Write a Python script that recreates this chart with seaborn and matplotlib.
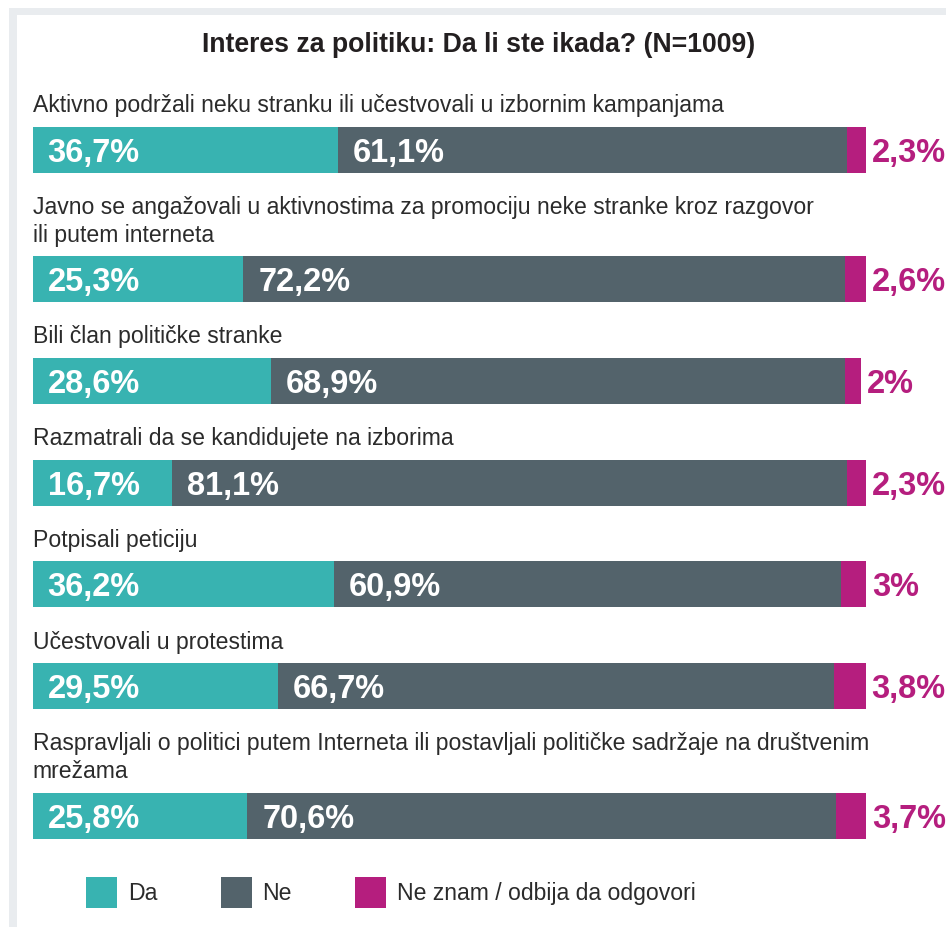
import pandas as pd
import numpy as np
import matplotlib
matplotlib.use("Agg")
import matplotlib.pyplot as plt
import seaborn as sns
from matplotlib.patches import Rectangle, Patch

# data
categories = [
    "Aktivno podržali neku stranku ili učestvovali u izbornim kampanjama",
    "Javno se angažovali u aktivnostima za promociju neke stranke kroz razgovor\nili putem interneta",
    "Bili član političke stranke",
    "Razmatrali da se kandidujete na izborima",
    "Potpisali peticiju",
    "Učestvovali u protestima",
    "Raspravljali o politici putem Interneta ili postavljali političke sadržaje na društvenim\nmrežama",
]
da = [36.7, 25.3, 28.6, 16.7, 36.2, 29.5, 25.8]
ne = [61.1, 72.2, 68.9, 81.1, 60.9, 66.7, 70.6]
dk = [2.3, 2.6, 2.0, 2.3, 3.0, 3.8, 3.7]
series_names = ["Da", "Ne", "Ne znam / odbija da odgovori"]
title = "Interes za politiku: Da li ste ikada? (N=1009)"

TEAL = "#38b3b1"
GRAY = "#53636b"
MAG = "#b51e7e"
TXT = "#231f20"

W, H = 946, 927
PX = 8.33      # pixels per percent
X0 = 32.5      # left edge of bars in px
BAR_H = 46
LBL_FS = 16.6


def fmt(v):
    return f"{v:g}".replace(".", ",") + "%"


# vertical layout (pixel units, y grows downward)
nlines = [c.count("\n") + 1 for c in categories]
tops = []
for i, n in enumerate(nlines):
    if i == 0:
        tops.append(126.5)
    else:
        tops.append(tops[-1] + BAR_H + 55.7 + 28 * (n - 1))
ypos = [t + BAR_H / 2 for t in tops]

df = pd.DataFrame({"cat": categories, "y": ypos, "da": da, "ne": ne, "dk": dk})
df["da_ne"] = df["da"] + df["ne"]
df["total"] = df["da_ne"] + df["dk"]

plt.rcParams["font.family"] = ["Liberation Sans", "DejaVu Sans"]

fig = plt.figure(figsize=(W / 100, H / 100), dpi=100)
fig.patch.set_facecolor("white")
# light grey frame at top/left
fig.add_artist(Rectangle((9 / W, 0), 1, 1 - 8 / H, transform=fig.transFigure,
                         facecolor="#e9ecef", edgecolor="none", zorder=0))
fig.add_artist(Rectangle((16.5 / W, 0), 1, 1 - 15.3 / H, transform=fig.transFigure,
                         facecolor="white", edgecolor="none", zorder=0))

ax = fig.add_axes([0, 0, 1, 1])
ax.patch.set_alpha(0)

native = np.diff(sorted(ypos)).min()
for col, c in [("total", MAG), ("da_ne", GRAY), ("da", TEAL)]:
    sns.barplot(data=df, x=col, y="y", orient="h", native_scale=True,
                color=c, saturation=1, width=BAR_H / native, errorbar=None,
                linewidth=0, ax=ax)

ax.set_xlim(-X0 / PX, (W - X0) / PX)
ax.set_ylim(H, 0)
ax.set_axis_off()

for _, r in df.iterrows():
    yb = r["y"] + 12
    ax.text(15 / PX, yb, fmt(r["da"]), color="white", fontsize=23.5,
            fontweight="bold", va="baseline", ha="left")
    ax.text(r["da"] + 15 / PX, yb, fmt(r["ne"]), color="white", fontsize=23.5,
            fontweight="bold", va="baseline", ha="left")
    ax.text(r["total"] + 6 / PX, yb, fmt(r["dk"]), color=MAG, fontsize=23.5,
            fontweight="bold", va="baseline", ha="left")

for cat, top in zip(categories, tops):
    lines = cat.split("\n")
    for j, line in enumerate(lines):
        yb = top - 14.5 - 28 * (len(lines) - 1 - j)
        ax.text(0, yb, line, color="#2b2b2b", fontsize=LBL_FS,
                va="baseline", ha="left")

fig.text(479 / W, 1 - 51.7 / H, title, ha="center", va="baseline",
         fontsize=19.2, fontweight="bold", color=TXT)

handles = [Patch(facecolor=c, edgecolor="none", label=n)
           for c, n in zip([TEAL, GRAY, MAG], series_names)]
fig.legend(handles=handles, loc="center left",
           bbox_to_anchor=(86 / W, 1 - 892.5 / H), ncol=3, frameon=False,
           fontsize=LBL_FS, handlelength=22.32 / LBL_FS, handleheight=1.704,
           handletextpad=7.92 / LBL_FS, columnspacing=45.5 / LBL_FS,
           borderpad=0, borderaxespad=0, labelcolor="#2b2b2b")

fig.savefig("out.png", dpi=100)
